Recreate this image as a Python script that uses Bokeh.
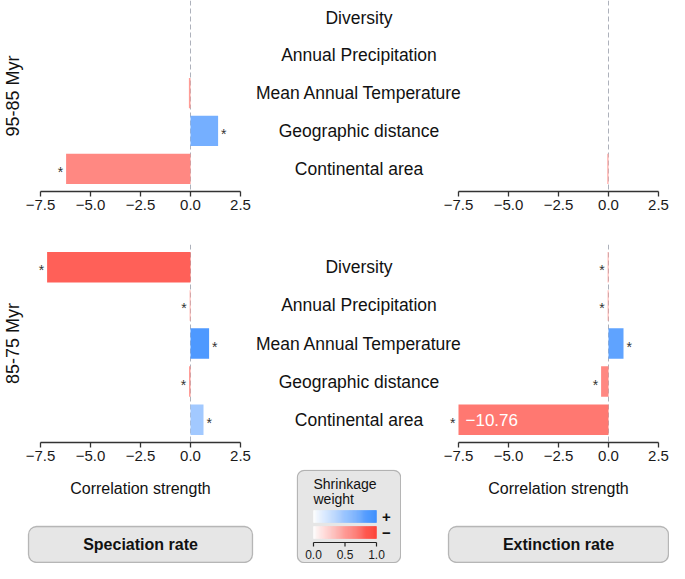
from bokeh.plotting import figure
from bokeh.models import (ColumnDataSource, Range1d, FixedTicker, CustomJSTickFormatter,
                          Span, Title, Label, BoxAnnotation)
from bokeh.layouts import row, column
from bokeh.core.properties import value
from bokeh.embed import file_html
from bokeh.resources import INLINE

FONT = "Liberation Sans"

# ---------------- data ----------------
categories = ["Diversity", "Annual Precipitation", "Mean Annual Temperature",
              "Geographic distance", "Continental area"]
x_ticks = [-7.5, -5.0, -2.5, 0.0, 2.5]
x_limits = (-7.5, 2.5)
weight_ticks = [0.0, 0.5, 1.0]
periods = ["95-85 Myr", "85-75 Myr"]
rates = ["Speciation rate", "Extinction rate"]
axis_title = "Correlation strength"
legend_title = ["Shrinkage", "weight"]
legend_signs = ["+", "\u2212"]

spec_95_85 = [0.0, 0.0, -0.08, 1.38, -6.22]
spec_95_85_w = [0.0, 0.0, 0.5, 0.68, 0.6]
spec_95_85_sig = [False, False, False, True, True]

ext_95_85 = [0.0, 0.0, 0.0, 0.0, -0.06]
ext_95_85_w = [0.0, 0.0, 0.0, 0.0, 0.45]
ext_95_85_sig = [False, False, False, False, False]

spec_85_75 = [-7.17, -0.04, 0.93, -0.07, 0.65]
spec_85_75_w = [0.8, 0.5, 0.87, 0.55, 0.46]
spec_85_75_sig = [True, True, True, True, True]

ext_85_75 = [-0.04, -0.04, 0.75, -0.37, -10.76]
ext_85_75_w = [0.5, 0.5, 0.79, 0.6, 0.68]
ext_85_75_sig = [True, True, True, True, True]

BLUE_END = (52, 138, 255)
RED_END = (255, 56, 46)


def shade(w, end):
    r, g, b = [int(round(255 + (e - 255) * w)) for e in end]
    return "#%02x%02x%02x" % (r, g, b)


def bar_color(v, w):
    return shade(w, BLUE_END if v > 0 else RED_END)


# ---------------- layout constants ----------------
PX = 20           # pixels per unit of correlation strength
LEFT_PAD = 22     # left border of the left panels (holds the period title)
LEFT_EXT = 18     # extra frame room left of -7.5 (for stars)
GAP_R = 11
RIGHT_PAD = 11
PANEL_W = int((x_limits[1] - x_limits[0]) * PX)
TOTAL_W = 669


def fmt_minus(v):
    return ("%.2f" % v).replace("-", "\u2212")


def style_xaxis(ax):
    ax.ticker = FixedTicker(ticks=x_ticks)
    ax.formatter = CustomJSTickFormatter(code="return tick.toFixed(1).replace('-', '\u2212');")
    ax.bounds = x_limits
    ax.axis_line_color = "#333333"
    ax.axis_line_width = 1.3
    ax.major_tick_line_color = "#333333"
    ax.major_tick_line_width = 1.3
    ax.major_tick_out = 5
    ax.major_tick_in = 0
    ax.minor_tick_line_color = None
    ax.major_label_standoff = 3
    ax.major_label_text_font = FONT
    ax.major_label_text_font_size = "15px"
    ax.major_label_text_color = "#1a1a1a"


def panel(vals, weights, sig, y_rng, frame_h, border_b, x_rng, frame_w,
          border_l, border_r, ylab=None, labels=False):
    p = figure(x_range=x_rng, y_range=y_rng, frame_width=frame_w, frame_height=frame_h,
               min_border_left=border_l, min_border_right=border_r,
               min_border_top=0, min_border_bottom=border_b,
               toolbar_location=None, output_backend="svg", title=None,
               y_axis_location=None, x_axis_location="below")
    p.grid.visible = False
    p.outline_line_color = None
    p.background_fill_color = "white"
    p.border_fill_color = "white"
    style_xaxis(p.xaxis[0])

    p.add_layout(Span(location=0, dimension="height", line_color="#adb1bb",
                      line_dash="5 3", line_width=1, level="underlay"))

    n = len(categories)
    ys = [n - i for i in range(n)]
    shown = [max(v, x_limits[0]) for v in vals]   # bars are cut at the axis limit
    src = ColumnDataSource(dict(y=ys, v=shown,
                                color=[bar_color(v, w) for v, w in zip(vals, weights)]))
    p.hbar(y="y", left=0, right="v", height=0.8, fill_color="color",
           line_color=None, source=src)

    # significance stars
    pos = dict(x=[], y=[], t=[])
    neg = dict(x=[], y=[], t=[])
    for v, y, s in zip(shown, ys, sig):
        if not s:
            continue
        d = pos if v > 0 else neg
        d["x"].append(v)
        d["y"].append(y)
        d["t"].append("*")
    common = dict(text_font=value(FONT), text_font_size="14px", text_color="#333333",
                  text_baseline="middle", y_offset=3)
    if pos["x"]:
        p.text(x="x", y="y", text="t", source=ColumnDataSource(pos),
               text_align="left", x_offset=3, **common)
    if neg["x"]:
        p.text(x="x", y="y", text="t", source=ColumnDataSource(neg),
               text_align="right", x_offset=-3, **common)

    # values beyond the axis limit are written in the bar
    clip = dict(x=[], y=[], t=[])
    for v, y in zip(vals, ys):
        if v < x_limits[0]:
            clip["x"].append(x_limits[0])
            clip["y"].append(y)
            clip["t"].append(fmt_minus(v))
    if clip["x"]:
        p.text(x="x", y="y", text="t", source=ColumnDataSource(clip), text_align="left",
               text_baseline="middle", x_offset=7, text_color="white",
               text_font=value(FONT), text_font_size="17px")

    if labels:
        lx = (x_rng.start + x_limits[0]) / 2 + 4 / PX
        lsrc = ColumnDataSource(dict(x=[lx] * n, y=ys, t=categories))
        p.text(x="x", y="y", text="t", source=lsrc, text_align="center",
               text_baseline="middle", text_color="#111111",
               text_font=value(FONT), text_font_size="17.5px")

    if ylab is not None:
        p.add_layout(Title(text=ylab, align="center", text_font=FONT,
                           text_font_size="18px", text_font_style="normal",
                           text_color="#111111", standoff=0, offset=0), "left")
    return p


LEFT_W = LEFT_PAD + LEFT_EXT + PANEL_W + GAP_R
RIGHT_FRAME = TOTAL_W - LEFT_W - RIGHT_PAD


def row_figs(spec, spec_w, spec_sig, ext, ext_w, ext_sig, y_rng_vals, frame_h, border_b, ylab):
    left = panel(spec, spec_w, spec_sig, Range1d(*y_rng_vals), frame_h, border_b,
                 Range1d(x_limits[0] - LEFT_EXT / PX, x_limits[1]), LEFT_EXT + PANEL_W,
                 LEFT_PAD, GAP_R, ylab=ylab)
    right = panel(ext, ext_w, ext_sig, Range1d(*y_rng_vals), frame_h, border_b,
                  Range1d(x_limits[1] - RIGHT_FRAME / PX, x_limits[1]), RIGHT_FRAME,
                  0, RIGHT_PAD, labels=True)
    return row(left, right)


r1 = row_figs(spec_95_85, spec_95_85_w, spec_95_85_sig, ext_95_85, ext_95_85_w,
              ext_95_85_sig, (0.4, 5.45), 191, 53, periods[0])
r2 = row_figs(spec_85_75, spec_85_75_w, spec_85_75_sig, ext_85_75, ext_85_75_w,
              ext_85_75_sig, (0.4, 5.6), 198, 27, periods[1])

# ---------------- bottom row (frames fill the whole canvas) ----------------
ROW3_H = 94
left_panel_center = LEFT_PAD + LEFT_EXT + PANEL_W / 2
right_panel_center = TOTAL_W - RIGHT_PAD - PANEL_W / 2
gap_center = (LEFT_PAD + LEFT_EXT + PANEL_W + TOTAL_W - RIGHT_PAD - PANEL_W) / 2
LEG_W = 105
BL_W = int(round(gap_center - LEG_W / 2))
BR_W = TOTAL_W - BL_W - LEG_W


def canvas_fig(w, x_rng):
    p = figure(frame_width=w, frame_height=ROW3_H, x_range=x_rng,
               y_range=Range1d(0, ROW3_H), min_border=0,
               min_border_left=0, min_border_right=0, min_border_top=0, min_border_bottom=0,
               toolbar_location=None, output_backend="svg", title=None,
               x_axis_location=None, y_axis_location=None)
    p.grid.visible = False
    p.outline_line_color = None
    p.background_fill_color = None
    p.border_fill_color = None
    return p


def rate_fig(w, center, box_w, rate):
    p = canvas_fig(w, Range1d(0, w))
    p.add_layout(BoxAnnotation(left=center - box_w / 2, right=center + box_w / 2,
                               bottom=1, top=37,
                               fill_color="#e6e6e6", fill_alpha=1,
                               line_color="#2b2b2b", line_width=1.3, border_radius=8,
                               level="underlay"))
    p.add_layout(Label(x=center, y=ROW3_H - 19, text=axis_title, text_align="center",
                       text_baseline="middle", text_font=FONT, text_font_size="16px",
                       text_color="#111111"))
    p.add_layout(Label(x=center, y=19, text=rate, text_align="center",
                       text_baseline="middle", text_font=FONT, text_font_size="16px",
                       text_font_style="bold", text_color="#111111"))
    return p


b_left = rate_fig(BL_W, left_panel_center, 224, rates[0])
b_right = rate_fig(BR_W, right_panel_center - BL_W - LEG_W, 220, rates[1])

# legend: shrinkage weight 0..1 mapped onto a 63 px strip
STRIP_W = 63
LEG_L = 17
u = 1.0 / STRIP_W
leg = canvas_fig(LEG_W, Range1d(-LEG_L * u, (LEG_W - LEG_L) * u))
leg.add_layout(BoxAnnotation(left=-(LEG_L - 0.8) * u, right=(LEG_W - LEG_L - 0.8) * u,
                             bottom=0.8, top=ROW3_H - 0.8,
                             fill_color="#e6e6e6", fill_alpha=1, line_color="#2b2b2b",
                             line_width=1.3, border_radius=7, level="underlay"))
NSTEP = 60
steps = [i / NSTEP for i in range(NSTEP)]
BLUE_Y = (41, 53)
RED_Y = (25, 37)
AXIS_Y = 21
grad = ColumnDataSource(dict(
    l=steps + steps, r=[s + 1 / NSTEP for s in steps] * 2,
    b=[BLUE_Y[0]] * NSTEP + [RED_Y[0]] * NSTEP, t=[BLUE_Y[1]] * NSTEP + [RED_Y[1]] * NSTEP,
    c=[shade(s + 0.5 / NSTEP, BLUE_END) for s in steps] +
      [shade(s + 0.5 / NSTEP, RED_END) for s in steps]))
leg.quad(left="l", right="r", bottom="b", top="t", fill_color="c", line_color="c",
         line_width=0.5, source=grad)
# weight scale: line, ticks and labels in the legend's own 0..1 scale
leg.segment(x0=[weight_ticks[0]], x1=[weight_ticks[-1]], y0=[AXIS_Y], y1=[AXIS_Y],
            line_color="#222222", line_width=1.2)
leg.segment(x0=weight_ticks, x1=weight_ticks, y0=[AXIS_Y] * 3, y1=[AXIS_Y - 4] * 3,
            line_color="#222222", line_width=1.2)
leg.text(x=weight_ticks, y=[AXIS_Y - 12] * 3, text=["%.1f" % t for t in weight_ticks],
         text_align="center", text_baseline="middle", text_font=value(FONT),
         text_font_size="12px", text_color="#1a1a1a")
for txt, yy in zip(legend_title, [ROW3_H - 14, ROW3_H - 29]):
    leg.add_layout(Label(x=0, y=yy, text=txt, text_align="left", text_baseline="middle",
                         text_font=FONT, text_font_size="14px", text_color="#111111"))
for txt, (y0, y1) in zip(legend_signs, [BLUE_Y, RED_Y]):
    leg.add_layout(Label(x=1 + 10 * u, y=(y0 + y1) / 2, text=txt, text_align="center",
                         text_baseline="middle", text_font=FONT, text_font_size="15px",
                         text_font_style="bold", text_color="#111111"))

r3 = row(b_left, leg, b_right)

layout = column(r1, r2, r3)
open("out.html", "w").write(file_html(layout, INLINE))
